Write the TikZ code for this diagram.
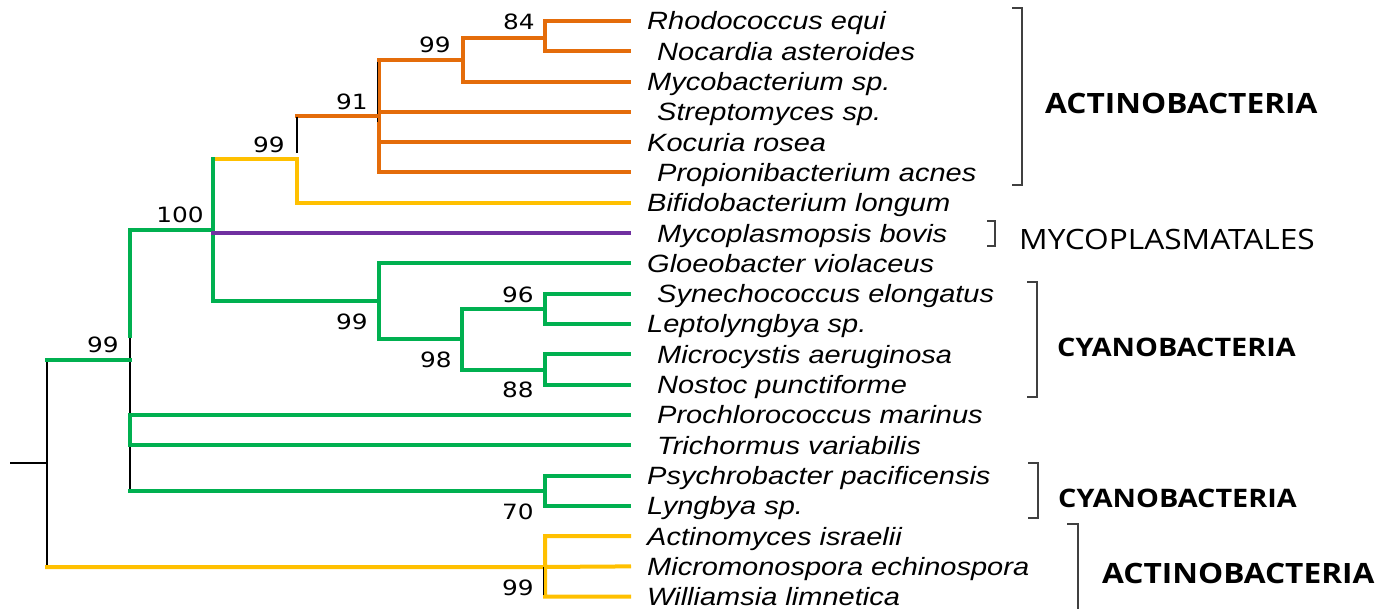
\documentclass[tikz,border=0pt]{standalone}
\usepackage{fontspec}
\setmainfont{DejaVu Sans}
\newfontfamily\leaffont[FakeStretch=1.16]{Liberation Sans}
\newfontfamily\grpfont[FakeStretch=1.13]{Open Sans}
\newfontfamily\bootfont[FakeStretch=1.18]{DejaVu Sans}
\definecolor{cor}{HTML}{E46C0A}
\definecolor{cye}{HTML}{FFC000}
\definecolor{cgr}{HTML}{00B050}
\definecolor{cpu}{HTML}{7030A0}
\definecolor{cbr}{HTML}{404040}
\begin{document}
\begin{tikzpicture}[x=1pt,y=-1pt,
  br/.style={line width=4pt,line cap=rect,line join=miter},
  obr/.style={br,cor}, ybr/.style={br,cye}, gbr/.style={br,cgr}, pbr/.style={br,cpu},
  thinblk/.style={line width=1.3pt,black},
  leaf/.style={anchor=base west,inner sep=0pt,font=\leaffont\itshape\fontsize{25}{28}\selectfont},
  boot/.style={inner sep=0pt,font=\bootfont\fontsize{21}{24}\selectfont},
  brk/.style={line width=1.8pt,cbr},
  grp/.style={anchor=west,inner sep=0pt,font=\grpfont\bfseries\fontsize{28}{32}\selectfont},
  grps/.style={anchor=west,inner sep=0pt,font=\grpfont\bfseries\fontsize{25.5}{30}\selectfont},
  grpr/.style={anchor=west,inner sep=0pt,font=\grpfont\fontsize{28}{32}\selectfont}]
\useasboundingbox (0,0) rectangle (1390,609);
% leaves
\foreach \i/\nm/\dx in {1/Rhodococcus equi/0, 2/Nocardia asteroides/10, 3/Mycobacterium sp./0,
  4/Streptomyces sp./10, 5/Kocuria rosea/0, 6/Propionibacterium acnes/10, 7/Bifidobacterium longum/0,
  8/Mycoplasmopsis bovis/10, 9/Gloeobacter violaceus/0, 10/Synechococcus elongatus/10,
  11/Leptolyngbya sp./0, 12/Microcystis aeruginosa/10, 13/Nostoc punctiforme/10,
  14/Prochlorococcus marinus/10, 15/Trichormus variabilis/10, 16/Psychrobacter pacificensis/0,
  17/Lyngbya sp./0, 18/Actinomyces israelii/0, 19/Micromonospora echinospora/0, 20/Williamsia limnetica/0}{
  \coordinate (t\i) at (629,{21+30.3*(\i-1)});
  \node[leaf] (l\i) at ({647+\dx},{30+30.3*(\i-1)}) {\nm};
}
% internal nodes
\coordinate (n84) at (545,38);
\coordinate (n99a) at (463,60);
\coordinate (n91) at (379,116);
\coordinate (n99b) at (297,159);
\coordinate (n100) at (213,230);
\coordinate (n99c) at (379,301);
\coordinate (n98) at (462,339);
\coordinate (n96) at (545,309);
\coordinate (n88) at (545,370);
\coordinate (n99d) at (130,360);
\coordinate (n70) at (545,491);
\coordinate (root) at (47,463);
\coordinate (n99e) at (545,567);
\coordinate (stub) at (10,463);
% orange clade
\draw[obr] (n84) |- (t1) (n84) |- (t2);
\draw[obr] (n99a) |- (n84) (n99a) |- (t3);
\draw[obr] (n91) |- (n99a) (n91) |- (t4) (n91) |- (t5) (n91) |- (t6);
\draw[thinblk] ([xshift=-1.5pt,yshift=-2pt]n99a -| n91) -- ([xshift=-1.5pt]n91 |- 0,122);
\draw[obr] (n99b |- n91) -- (n91);
\draw[thinblk] ([yshift=-1pt]n99b |- n91) -- ([yshift=6pt]n99b);
% yellow
\draw[ybr] (n100 |- n99b) -- (n99b) |- (t7);
% n100
\draw[gbr] (n100 |- n99b) -- (n100 |- n99c) -- (n99c);
\draw[gbr] (n99d |- n100) -- (n100);
\draw[pbr] (n100 |- t8) -- (t8);
% cyanobacteria
\draw[gbr] (n99c) |- (t9) (n99c) |- (n98);
\draw[gbr] (n98) |- (n96) (n98) |- (n88);
\draw[gbr] (n96) |- (t10) (n96) |- (t11);
\draw[gbr] (n88) |- (t12) (n88) |- (t13);
% n99d
\draw[thinblk] (n99d |- 0,336) -- (n99d |- n70);
\draw[gbr] (n99d |- n100) -- (n99d |- 0,336);
\draw[gbr] (n99d |- t14) -- (t14) (n99d |- t15) -- (t15) (n99d |- t14) -- (n99d |- t15);
\draw[gbr] (n99d |- n70) -- (n70) (n70) |- (t16) (n70) |- (t17);
% root
\draw[thinblk] (root |- n99d) -- (root |- n99e);
\draw[thinblk] (stub) -- (root);
\draw[gbr] (root |- n99d) -- (n99d);
\draw[ybr] (root |- n99e) -- (n99e) (n99e) |- (t18) (n99e) -- (t19) (n99e) |- (t20);
\draw[thinblk] ([xshift=-1.5pt]n99e) -- ([xshift=-1.5pt]n99e |- 0,595);
% bootstrap values
\node[boot] (b84) at (519,22) {84};
\node[boot] (b99a) at (435,45) {99};
\node[boot] (b91) at (352,102) {91};
\node[boot] (b99b) at (269,145) {99};
\node[boot] (b100) at (180,215) {100};
\node[boot] (b99c) at (352,322) {99};
\node[boot] (b96) at (518,295) {96};
\node[boot] (b98) at (436,360) {98};
\node[boot] (b88) at (518,390) {88};
\node[boot] (b99d) at (103,345) {99};
\node[boot] (b70) at (518,512) {70};
\node[boot] (b99e) at (518,588) {99};
% brackets
\coordinate (k1a) at (1012,8); \coordinate (k1b) at (1012,185);
\draw[brk] (k1a) -| (1022,185) -- (k1b);
\coordinate (k2a) at (987,221); \coordinate (k2b) at (987,246);
\draw[brk] (k2a) -| (995,246) -- (k2b);
\coordinate (k3a) at (1027,282); \coordinate (k3b) at (1027,397);
\draw[brk] (k3a) -| (1037,397) -- (k3b);
\coordinate (k4a) at (1028,463); \coordinate (k4b) at (1028,518);
\draw[brk] (k4a) -| (1038,518) -- (k4b);
\coordinate (k5a) at (1067,524);
\draw[brk] (k5a) -| (1078,612);
% group labels
\node[grp] (g1) at (1045,103) {ACTINOBACTERIA};
\node[grpr] (g2) at (1019,239) {MYCOPLASMATALES};
\node[grps] (g3) at (1057,347) {CYANOBACTERIA};
\node[grps] (g4) at (1058,498) {CYANOBACTERIA};
\node[grp] (g5) at (1102,573) {ACTINOBACTERIA};
\end{tikzpicture}
\end{document}
